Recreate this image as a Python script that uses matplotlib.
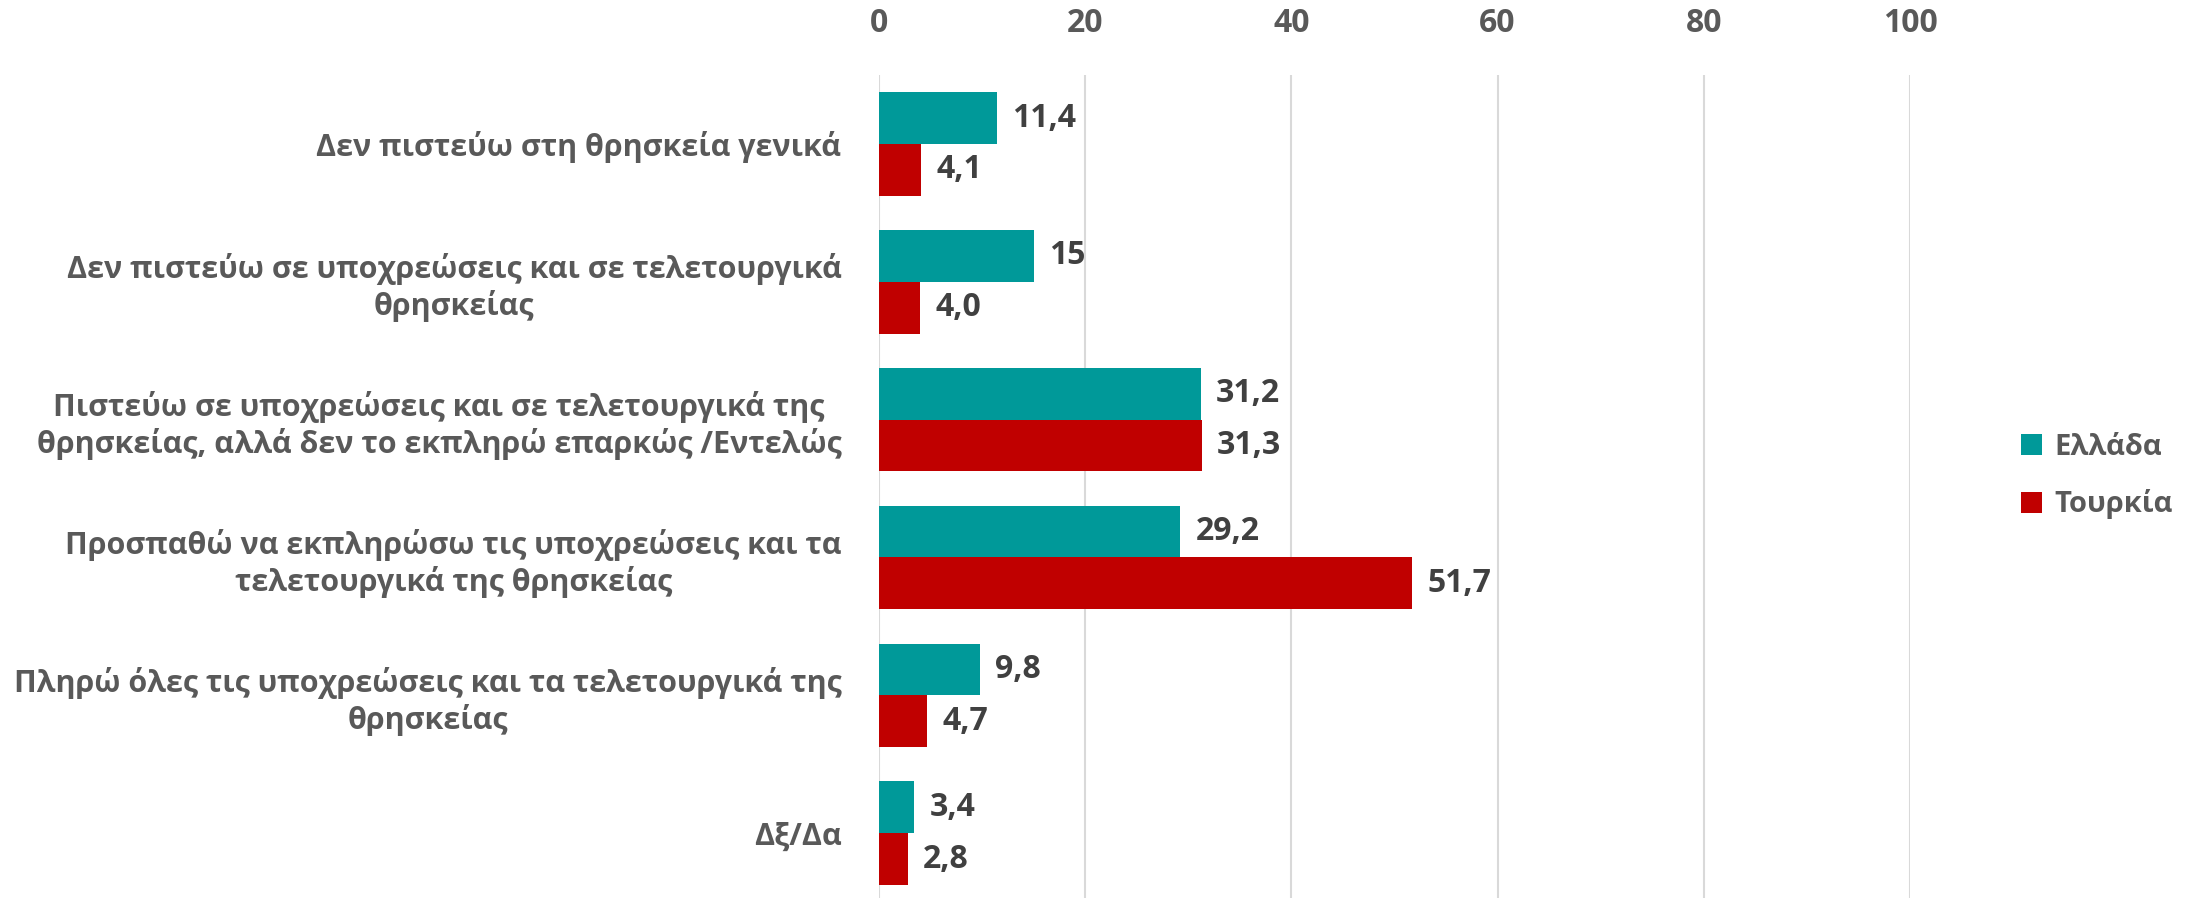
import matplotlib.pyplot as plt
import numpy as np

categories = [
    'Δεν πιστεύω στη θρησκεία γενικά',
    'Δεν πιστεύω σε υποχρεώσεις και σε τελετουργικά\nθρησκείας',
    'Πιστεύω σε υποχρεώσεις και σε τελετουργικά της\nθρησκείας, αλλά δεν το εκπληρώ επαρκώς /Εντελώς',
    'Προσπαθώ να εκπληρώσω τις υποχρεώσεις και τα\nτελετουργικά της θρησκείας',
    'Πληρώ όλες τις υποχρεώσεις και τα τελετουργικά της\nθρησκείας',
    'Δξ/Δα',
]
greece = [11.4, 15, 31.2, 29.2, 9.8, 3.4]
turkey = [4.1, 4.0, 31.3, 51.7, 4.7, 2.8]
greece_labels = ['11,4', '15', '31,2', '29,2', '9,8', '3,4']
turkey_labels = ['4,1', '4,0', '31,3', '51,7', '4,7', '2,8']
ticks = [0, 20, 40, 60, 80, 100]

plt.rcParams['font.family'] = ['Open Sans', 'DejaVu Sans']

W, H = 2198, 898
fig = plt.figure(figsize=(W / 100, H / 100), dpi=100)
left, right, top, bottom = 879, 1910, 75, 898
ax = fig.add_axes([left / W, 1 - bottom / H, (right - left) / W, (bottom - top) / H])

y = np.arange(len(categories))
h = 0.376
b1 = ax.barh(y - h / 2, greece, height=h, color='#009999', label='Ελλάδα', zorder=3)
b2 = ax.barh(y + h / 2, turkey, height=h, color='#C00000', label='Τουρκία', zorder=3)

for bars, labs in ((b1, greece_labels), (b2, turkey_labels)):
    for bar, lab in zip(bars, labs):
        ax.annotate(lab, (bar.get_width(), bar.get_y() + bar.get_height() / 2),
                    xytext=(11, 0), textcoords='offset points', va='center', ha='left',
                    fontsize=23, fontweight='bold', color='#404040')

ax.set_xlim(0, 100)
ax.set_ylim(5.47, -0.5)
ax.set_xticks(ticks)
ax.set_xticklabels([str(t) for t in ticks])
ax.xaxis.tick_top()
ax.tick_params(axis='x', length=0, pad=25, labelsize=23, labelcolor='#595959')
for lab in ax.get_xticklabels():
    lab.set_fontweight('bold')
ax.set_yticks(y)
ax.set_yticklabels(categories)
ax.tick_params(axis='y', length=0, pad=27, labelsize=22, labelcolor='#595959')
for lab in ax.get_yticklabels():
    lab.set_fontweight('bold')
    lab.set_multialignment('center')
ax.grid(axis='x', color='#d9d9d9', linewidth=1.5, zorder=0)
for s in ax.spines.values():
    s.set_visible(False)

ax.legend(loc='center left', bbox_to_anchor=(1995 / W, 1 - 476 / H), bbox_transform=fig.transFigure,
          frameon=False, handlelength=0.72, handleheight=0.72, handletextpad=0.4,
          labelspacing=0.95, labelcolor='#595959', prop={'weight': 'bold', 'size': 21})

fig.savefig('out.png', dpi=100)
